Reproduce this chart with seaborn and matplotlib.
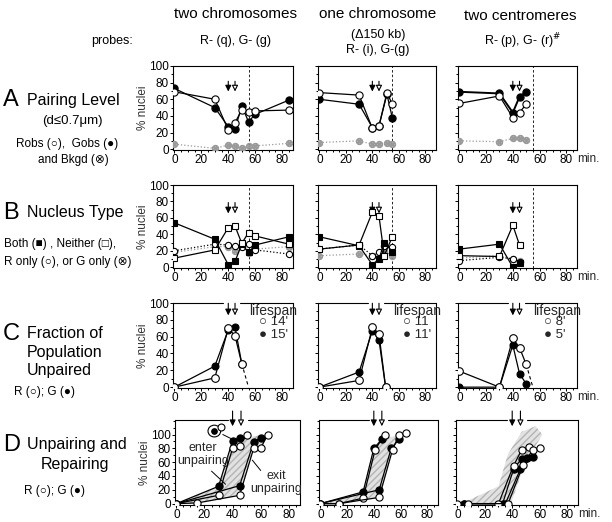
import matplotlib
matplotlib.use('Agg')
import matplotlib.pyplot as plt
from matplotlib.patches import Ellipse
from matplotlib.ticker import MultipleLocator
import seaborn as sns

sns.set_theme(style="white")
plt.rcParams['font.family'] = ['Liberation Sans', 'DejaVu Sans']

# ---- A: pairing level ----
A_t1 = [0, 30, 40, 45, 50, 55, 60, 85]
A_r1 = [69, 60, 23, 32, 47, 45, 46, 47]
A_g1 = [73, 50, 27, 24, 52, 33, 42, 59]
A_bk1 = [6, 1, 5, 4, 1, 4, 4, 7]

A_t2 = [0, 30, 40, 45, 51, 55]
A_r2 = [68, 65, 25, 28, 68, 54]
A_g2 = [60, 54, 26, 28, 66, 38]
A_bk2 = [8, 10, 6, 6, 8, 6]

A_t3 = [0, 30, 40, 45, 50]
A_r3 = [55, 64, 38, 44, 54]
A_g3 = [69, 67, 44, 63, 69]
A_bk3 = [10, 9, 13, 14, 11]

# ---- B: nucleus type ----
B_t1 = [0, 30, 40, 45, 50, 55, 60, 85]
B_both1 = [54, 34, 3, 7, 28, 18, 27, 37]
B_neither1 = [11, 21, 48, 50, 29, 42, 38, 28]
B_ronly1 = [20, 28, 27, 26, 24, 28, 21, 16]
B_gonly1 = [18, 25, 25, 20, 27, 17, 22, 25]

B_t2 = [0, 30, 40, 45, 49, 55]
B_both2 = [37, 26, 3, 10, 30, 19]
B_neither2 = [22, 27, 67, 62, 14, 37]
B_ronly2 = [22, 27, 14, 18, 26, 24]
B_gonly2 = [14, 16, 14, 12, 20, 14]

B_t3 = [0, 30, 40, 45]
B_both3 = [22, 28, 0, 5]
B_neither3 = [14, 13, 51, 27]
B_ronly3 = [8, 12, 10, 6]
B_gonly3 = [11, 14, 10, 8]

# ---- C: fraction unpaired ----
C_t1 = [0, 30, 40, 45, 50]
C_r1 = [0, 11, 70, 61, 28]
C_g1 = [0, 25, 68, 71, 28]
C_t2 = [0, 30, 40, 45, 50]
C_r2 = [0, 8, 71, 63, 0]
C_g2 = [0, 18, 67, 56, 0]
C_t3 = [0, 30, 40, 45, 50]
C_r3 = [19, 0, 58, 47, 27]
C_g3 = [0, 0, 50, 16, 4]
C_life = [("14'", "15'"), ("11", "11'"), ("8'", "5'")]

# ---- D: unpairing and repairing (cumulative) ----
D_ent_tg1 = [0, 30, 40, 45]
D_ent_g1 = [0, 25, 91, 95]
D_ent_tr1 = [0, 30, 40, 45, 50]
D_ent_r1 = [0, 12, 80, 84, 100]
D_ext_tg1 = [0, 45, 55, 60]
D_ext_g1 = [0, 26, 89, 95]
D_ext_tr1 = [0, 15, 45, 55, 60, 65]
D_ext_r1 = [0, 1, 12, 80, 80, 100]
D_note_t = [27]
D_note_g = [105]
D_note_r = [111]

D_ent_tg2 = [0, 32, 40, 46]
D_ent_g2 = [0, 17, 80, 93]
D_ent_tr2 = [0, 14, 32, 41, 48]
D_ent_r2 = [0, 0, 8, 78, 100]
D_ext_tg2 = [0, 44, 53, 59]
D_ext_g2 = [0, 20, 80, 93]
D_ext_tr2 = [0, 14, 44, 54, 59, 64]
D_ext_r2 = [0, 0, 9, 78, 100, 102]

D_ent_tr3 = [0, 30, 41, 47, 52]
D_ent_r3 = [0, 0, 55, 78, 82]
D_ent_tg3 = [5, 33, 41, 47, 51]
D_ent_g3 = [0, 0, 50, 65, 66]
D_ext_tr3 = [8, 37, 48, 55, 60]
D_ext_r3 = [0, 0, 56, 78, 81]
D_ext_tg3 = [5, 35, 46, 55]
D_ext_g3 = [0, 0, 50, 68]
# envelope of the shaded region in the centromere panel
D_band_x3 = [3, 30, 37, 47, 57, 62, 56, 47, 39]
D_band_y3 = [0, 25, 72, 104, 112, 100, 80, 45, 0]

W, H = 612, 522
fig = plt.figure(figsize=(W / 100, H / 100), dpi=100)


def px_axes(l, t, r, b):
    return fig.add_axes([l / W, 1 - b / H, (r - l) / W, (b - t) / H])


def ftext(x, y, s, **kw):
    kw.setdefault('ha', 'left')
    kw.setdefault('va', 'center')
    kw.setdefault('fontsize', 9)
    fig.text(x / W, 1 - y / H, s, color='black', **kw)


def series(ax, t, y, mk, fc, ls='-', color='black', ms=5.2, lw=0.9, z=3):
    sns.lineplot(x=t, y=y, ax=ax, color=color, linestyle=ls, marker=mk, markersize=ms,
                 markerfacecolor=fc, markeredgecolor=color, markeredgewidth=0.8,
                 linewidth=lw, sort=False, estimator=None, zorder=z)


def setup(ax, col, ylim=(-1, 100), last=False):
    ax.set_xlim(-1, 88)
    ax.set_ylim(*ylim)
    ax.set_xticks([0, 20, 40, 60, 80])
    ax.xaxis.set_minor_locator(MultipleLocator(5))
    ax.set_yticks([0, 20, 40, 60, 80, 100])
    ax.yaxis.set_minor_locator(MultipleLocator(10))
    ax.tick_params(which='both', direction='out', width=0.7, colors='black',
                   labelsize=8.5, pad=0.5, bottom=True, left=True)
    ax.tick_params(which='major', length=2.5)
    ax.tick_params(which='minor', length=1.5)
    for s in ax.spines.values():
        s.set_linewidth(0.8)
        s.set_color('black')
    ax.set_xlabel('')
    ax.set_ylabel('')
    if col == 0:
        ax.set_ylabel('% nuclei', fontsize=8.5, labelpad=0, color='#333333')
    else:
        ax.set_yticklabels([])
    if last:
        ax.text(1.0, -0.035, 'min.', transform=ax.transAxes, ha='left', va='top', fontsize=8.5)


def arrows(ax, x1, x2, y0, y1):
    ax.annotate('', xy=(x1, y1), xytext=(x1, y0),
                arrowprops=dict(arrowstyle='-|>', color='black', lw=0.8, mutation_scale=9),
                annotation_clip=False)
    ax.annotate('', xy=(x2, y1), xytext=(x2, y0),
                arrowprops=dict(arrowstyle='-|>', fc='white', ec='black', lw=0.8, mutation_scale=9),
                annotation_clip=False)


def broken_top(ax, gaps):
    ax.spines['top'].set_visible(False)
    pts = [0.0] + [g for pair in gaps for g in pair] + [1.0]
    for a, b in zip(pts[0::2], pts[1::2]):
        ax.plot([a, b], [1, 1], transform=ax.transAxes, color='black', lw=0.8, clip_on=False)


cols_x = [(173, 293), (318, 436), (458, 577)]
cols_xD = [(175, 300), (319, 438), (456, 578)]
rows_y = {'A': (66, 150), 'B': (185, 268), 'C': (303, 388), 'D': (420, 505)}

gray_mk = r'$\otimes$'
gray_c = '#9a9a9a'

# Row A
A_data = [(A_t1, A_r1, A_g1, A_bk1), (A_t2, A_r2, A_g2, A_bk2), (A_t3, A_r3, A_g3, A_bk3)]
for i, (t, r, g, bk) in enumerate(A_data):
    ax = px_axes(cols_x[i][0], rows_y['A'][0], cols_x[i][1], rows_y['A'][1])
    series(ax, t, bk, gray_mk, gray_c, ls=':', color=gray_c, ms=4.5, lw=0.9)
    series(ax, t, g, 'o', 'black', lw=1.4 if i == 2 else 0.9)
    series(ax, t, r, 'o', 'white', z=4)
    ax.axvline(55, color='black', lw=0.6, ls=(0, (3, 2.5)))
    arrows(ax, 40, 45, 85, 66)
    setup(ax, i, last=(i == 2))

# Row B
B_data = [(B_t1, B_both1, B_neither1, B_ronly1, B_gonly1),
          (B_t2, B_both2, B_neither2, B_ronly2, B_gonly2),
          (B_t3, B_both3, B_neither3, B_ronly3, B_gonly3)]
for i, (t, bo, ne, ro, go) in enumerate(B_data):
    ax = px_axes(cols_x[i][0], rows_y['B'][0], cols_x[i][1], rows_y['B'][1])
    series(ax, t, go, gray_mk, gray_c, ls=':', color=gray_c, ms=4.5)
    series(ax, t, ro, 'o', 'white', ls=':', ms=4.5)
    series(ax, t, bo, 's', 'black', ms=4)
    series(ax, t, ne, 's', 'white', ms=4, z=4)
    ax.axvline(55, color='black', lw=0.6, ls=(0, (3, 2.5)))
    arrows(ax, 40, 45, 82, 62)
    setup(ax, i, last=(i == 2))

# Row C
C_data = [(C_t1, C_r1, C_g1), (C_t2, C_r2, C_g2), (C_t3, C_r3, C_g3)]
for i, (t, r, g) in enumerate(C_data):
    ax = px_axes(cols_x[i][0], rows_y['C'][0], cols_x[i][1], rows_y['C'][1])
    series(ax, t, g, 'o', 'black', ms=5)
    series(ax, t, r, 'o', 'white', ms=5.5, z=4)
    if r[-1] > 0:
        ax.plot([t[-1], 55], [r[-1], 0], color='black', lw=0.8, ls=(0, (3, 2.5)))
    arrows(ax, 40, 45, 103, 82)
    setup(ax, i, last=(i == 2))
    broken_top(ax, [(0.42, 0.56)])
    ax.text(55.5, 91, 'lifespan', fontsize=10, ha='left', va='center')
    ax.text(63, 77, '○ ' + C_life[i][0], fontsize=9.5, ha='left', va='center')
    ax.text(63, 62, '● ' + C_life[i][1], fontsize=9.5, ha='left', va='center')

# Row D
D_data = [
    (D_ent_tg1, D_ent_g1, D_ent_tr1, D_ent_r1, D_ext_tg1, D_ext_g1, D_ext_tr1, D_ext_r1),
    (D_ent_tg2, D_ent_g2, D_ent_tr2, D_ent_r2, D_ext_tg2, D_ext_g2, D_ext_tr2, D_ext_r2),
    (D_ent_tg3, D_ent_g3, D_ent_tr3, D_ent_r3, D_ext_tg3, D_ext_g3, D_ext_tr3, D_ext_r3),
]
for i, (etg, eg, etr, er, xtg, xg, xtr, xr) in enumerate(D_data):
    ax = px_axes(cols_xD[i][0], rows_y['D'][0], cols_xD[i][1], rows_y['D'][1])
    # shaded band between entering and exiting curves
    if i < 2:
        poly_x = list(etg) + list(xtr)[::-1]
        poly_y = list(eg) + list(xr)[::-1]
    else:
        poly_x, poly_y = D_band_x3, D_band_y3
    ax.fill(poly_x, poly_y, facecolor='#e2e2e2', edgecolor='#b4b4b4', hatch='/////', lw=0, zorder=1)
    series(ax, etg, eg, 'o', 'black', ms=5.2)
    series(ax, etr, er, 'o', 'white', ms=5.2, z=4)
    series(ax, xtg, xg, 'o', 'black', ms=5.2)
    series(ax, xtr, xr, 'o', 'white', ms=5.2, z=4)
    arrows(ax, 40, 46, 138, 108)
    setup(ax, i, ylim=(-2, 121), last=(i == 2))
    broken_top(ax, [(0.42, 0.58)])
    if i == 0:
        series(ax, D_note_t, D_note_g, 'o', 'black', ms=4)
        series(ax, [t + 5 for t in D_note_t], D_note_r, 'o', 'white', ms=5)
        ax.add_patch(Ellipse((D_note_t[0], D_note_g[0]), 9, 17, fill=False, ec='black', lw=0.8))
        ax.plot([33, 40], [100, 93], color='black', lw=0.7)
        ax.text(19, 71, 'enter\nunpairing', fontsize=9, ha='center', va='center', linespacing=1.1)
        ax.plot([25, 35], [47, 28], color='black', lw=0.7)
        ax.text(71, 31, 'exit\nunpairing', fontsize=9, ha='center', va='center', linespacing=1.1)
        ax.plot([54, 60], [63, 48], color='black', lw=0.7)

# ---- texts ----
ftext(236, 14, 'two chromosomes', ha='center', fontsize=11)
ftext(378, 14, 'one chromosome', ha='center', fontsize=11)
ftext(520, 16, 'two centromeres', ha='center', fontsize=11)
ftext(112, 41, 'probes:', ha='center')
ftext(236, 41, 'R- (q), G- (g)', ha='center')
ftext(378, 35, '(Δ150 kb)', ha='center')
ftext(378, 50, 'R- (i), G-(g)', ha='center')
ftext(523, 41, 'R- (p), G- (r)$^{\\#}$', ha='center')

for letter, y in [('A', 100), ('B', 213), ('C', 334), ('D', 445)]:
    ftext(3, y, letter, fontsize=17)
ftext(27, 100, 'Pairing Level', fontsize=11.5)
ftext(72, 121, '(d≤0.7μm)', ha='center', fontsize=9.5)
ftext(16, 144, 'Robs (○),  Gobs (●)', fontsize=8.5)
ftext(38, 160, 'and Bkgd (⊗)', fontsize=8.5)
ftext(27, 213, 'Nucleus Type', fontsize=11.5)
ftext(4, 244, 'Both (■) , Neither (□),', fontsize=8.5)
ftext(4, 262, 'R only (○), or G only (⊗)', fontsize=8.5)
ftext(27, 334, 'Fraction of', fontsize=11.5)
ftext(27, 352, 'Population', fontsize=11.5)
ftext(27, 370, 'Unpaired', fontsize=11.5)
ftext(14, 392, 'R (○); G (●)', fontsize=8.5)
ftext(27, 445, 'Unpairing and', fontsize=11.5)
ftext(75, 464, 'Repairing', ha='center', fontsize=11.5)
ftext(24, 491, 'R (○); G (●)', fontsize=8.5)

fig.savefig('out.png', dpi=100)
